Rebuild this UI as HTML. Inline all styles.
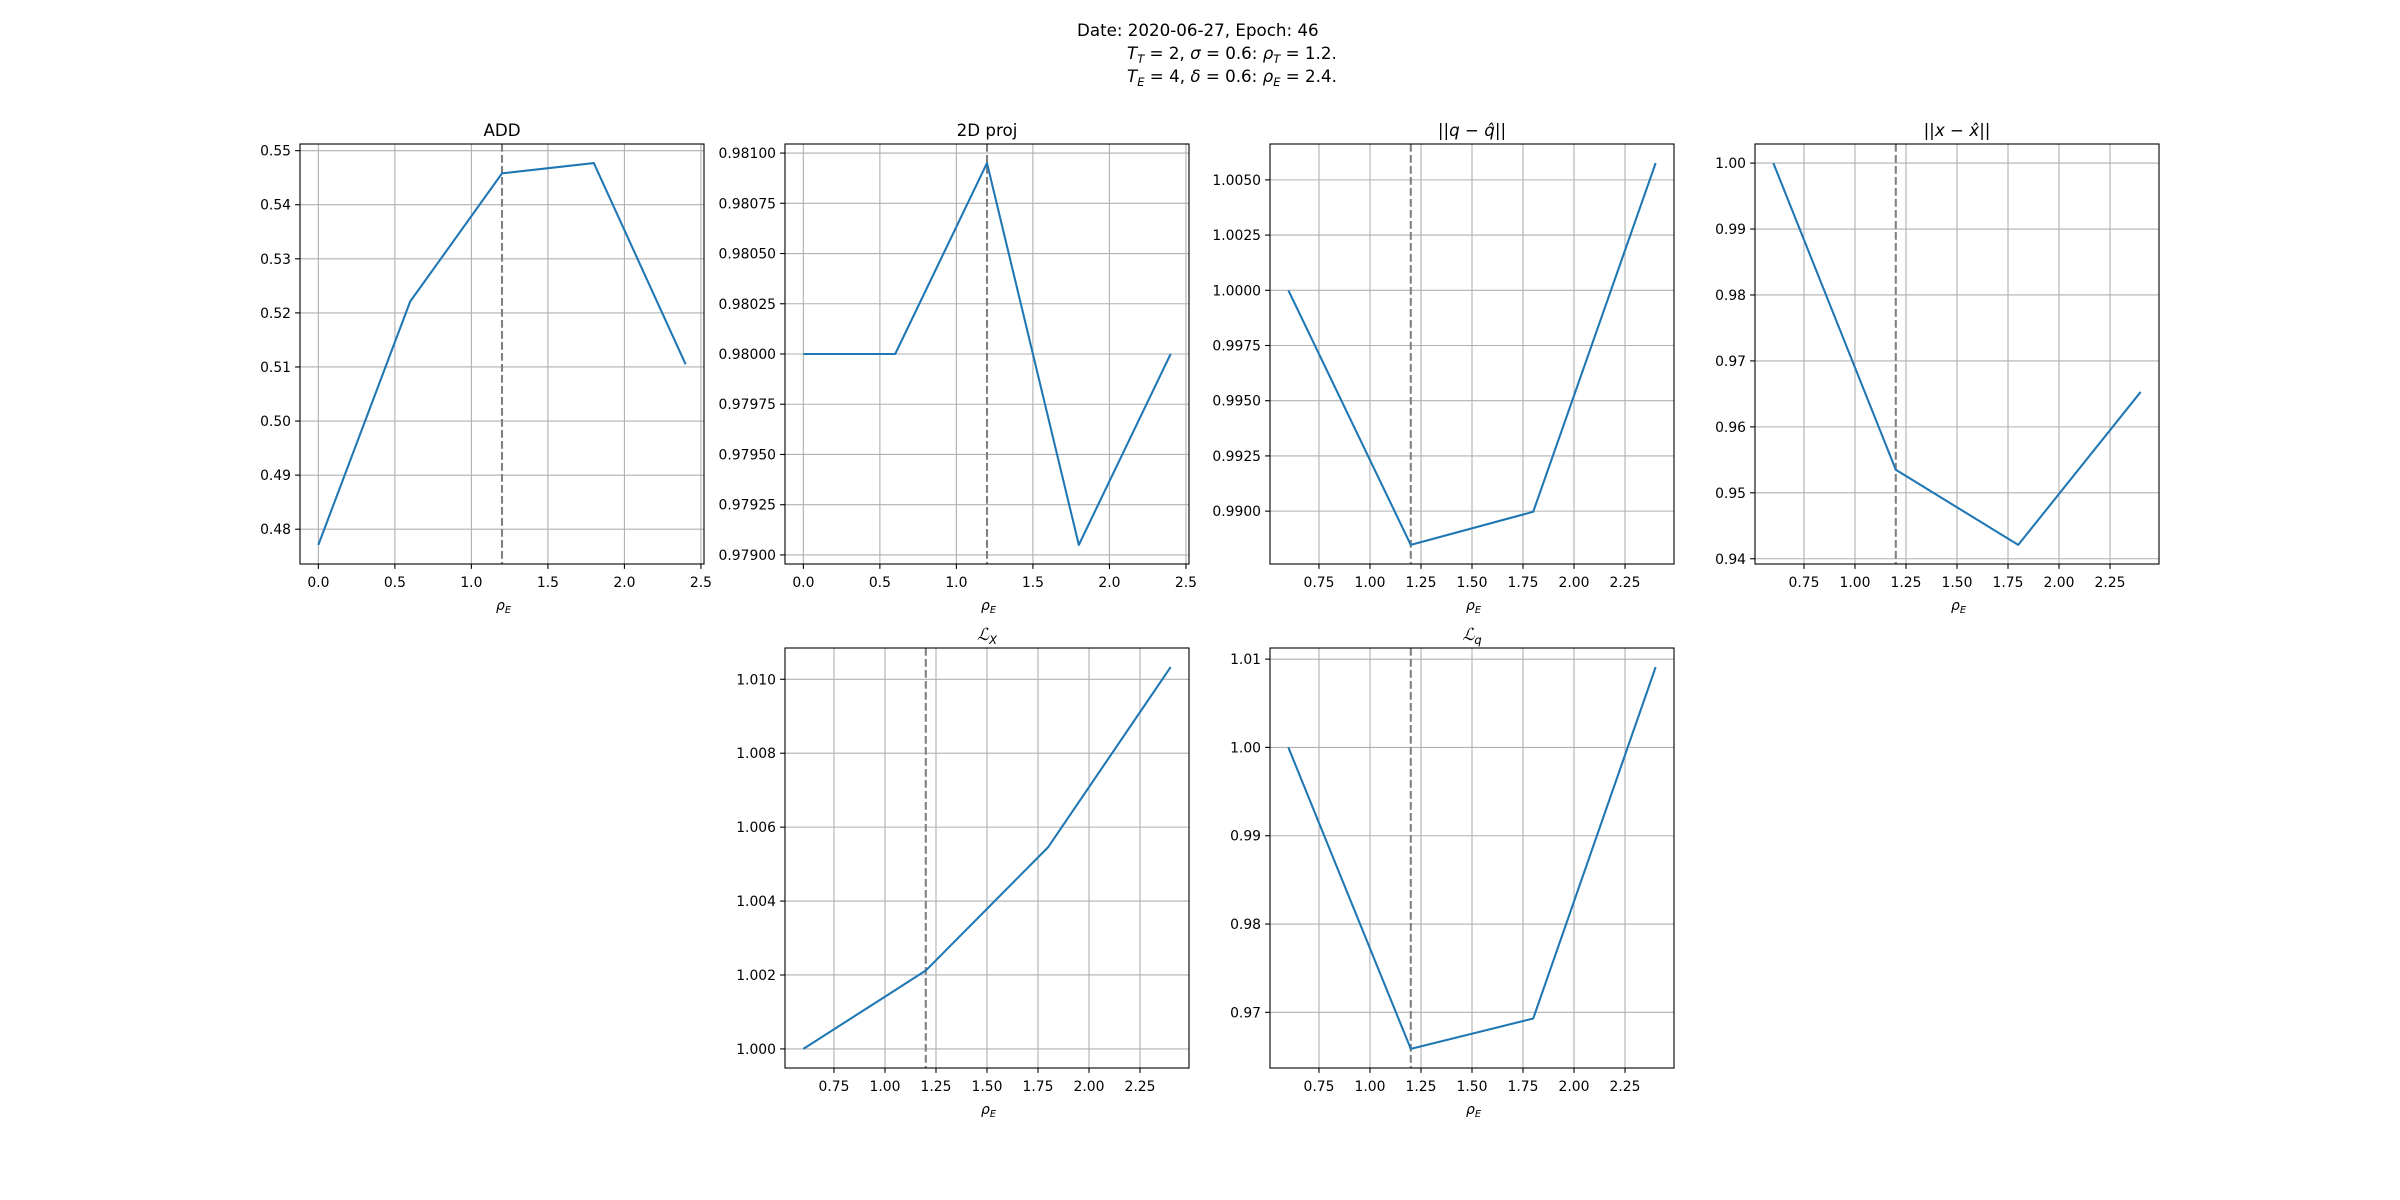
<!DOCTYPE html>
<html><head><meta charset="utf-8"><style>
html,body{margin:0;padding:0;background:#fff;}
svg{display:block;font-family:"DejaVu Sans","Liberation Sans",sans-serif;}
</style></head><body>
<svg id="fig" width="2400" height="1200" viewBox="0 0 2400 1200" xmlns="http://www.w3.org/2000/svg">
<rect width="2400" height="1200" fill="#fff"/>
<g font-size="16.7" fill="#000">
<text x="1077" y="36">Date: 2020-06-27, Epoch: 46</text>
<text x="1127" y="59"><tspan font-style="italic">T</tspan><tspan font-style="italic" font-size="11.5" dy="4">T</tspan><tspan dy="-4"> = 2, </tspan><tspan font-style="italic">σ</tspan> = 0.6: <tspan font-style="italic">ρ</tspan><tspan font-style="italic" font-size="11.5" dy="4">T</tspan><tspan dy="-4"> = 1.2.</tspan></text>
<text x="1127" y="82"><tspan font-style="italic">T</tspan><tspan font-style="italic" font-size="11.5" dy="4">E</tspan><tspan dy="-4"> = 4, </tspan><tspan font-style="italic">δ</tspan> = 0.6: <tspan font-style="italic">ρ</tspan><tspan font-style="italic" font-size="11.5" dy="4">E</tspan><tspan dy="-4"> = 2.4.</tspan></text>
</g>
</svg>
<script>
// ---- data ----
const xADD = [0, 0.6, 1.2, 1.8, 2.4];
const yADD = [0.4771, 0.5221, 0.5458, 0.5477, 0.5105];
const x2D = [0, 0.6, 1.2, 1.8, 2.4];
const y2D = [0.98, 0.98, 0.98095, 0.97905, 0.98];
const xQ = [0.6, 1.2, 1.8, 2.4];
const yQ = [1.0, 0.98847, 0.98997, 1.00576];
const xX = [0.6, 1.2, 1.8, 2.4];
const yX = [1.0, 0.9535, 0.9421, 0.9653];
const xLX = [0.6, 1.2, 1.8, 2.4];
const yLX = [1.0, 1.00212, 1.00546, 1.01033];
const xLq = [0.6, 1.2, 1.8, 2.4];
const yLq = [1.0, 0.96586, 0.9693, 1.0091];
const xTicksA = ['0.0','0.5','1.0','1.5','2.0','2.5'];
const xTicksB = ['0.75','1.00','1.25','1.50','1.75','2.00','2.25'];
const yTicksADD = ['0.48','0.49','0.50','0.51','0.52','0.53','0.54','0.55'];
const yTicks2D = ['0.97900','0.97925','0.97950','0.97975','0.98000','0.98025','0.98050','0.98075','0.98100'];
const yTicksQ = ['0.9900','0.9925','0.9950','0.9975','1.0000','1.0025','1.0050'];
const yTicksX = ['0.94','0.95','0.96','0.97','0.98','0.99','1.00'];
const yTicksLX = ['1.000','1.002','1.004','1.006','1.008','1.010'];
const yTicksLq = ['0.97','0.98','0.99','1.00','1.01'];
const vline = 1.2;

const NS = 'http://www.w3.org/2000/svg';
const svg = document.getElementById('fig');
function el(tag, attrs, parent){const e=document.createElementNS(NS,tag);for(const k in attrs)e.setAttribute(k,attrs[k]);(parent||svg).appendChild(e);return e;}

const W=404,H=420;
const panels=[
 {name:'add',title:'ADD',x:300,y:144,xs:xADD,ys:yADD,xt:xTicksA,yt:yTicksADD},
 {name:'proj-2d',title:'2D proj',x:785,y:144,xs:x2D,ys:y2D,xt:xTicksA,yt:yTicks2D},
 {name:'q-error',title:'q',x:1270,y:144,xs:xQ,ys:yQ,xt:xTicksB,yt:yTicksQ},
 {name:'x-error',title:'x',x:1755,y:144,xs:xX,ys:yX,xt:xTicksB,yt:yTicksX},
 {name:'loss-x',title:'LX',x:785,y:648,xs:xLX,ys:yLX,xt:xTicksB,yt:yTicksLX},
 {name:'loss-q',title:'Lq',x:1270,y:648,xs:xLq,ys:yLq,xt:xTicksB,yt:yTicksLq},
];

panels.forEach(p=>{
  const g=el('g',{});
  
  
  const xmin=Math.min(...p.xs),xmax=Math.max(...p.xs),ymin=Math.min(...p.ys),ymax=Math.max(...p.ys);
  const xl0=xmin-0.05*(xmax-xmin),xl1=xmax+0.05*(xmax-xmin);
  const yl0=ymin-0.05*(ymax-ymin),yl1=ymax+0.05*(ymax-ymin);
  const sx=v=>p.x+(v-xl0)/(xl1-xl0)*W;
  const sy=v=>p.y+H-(v-yl0)/(yl1-yl0)*H;
  // grid + ticks
  p.xt.forEach(t=>{
    const X=sx(parseFloat(t));
    const gl=el('line',{x1:X,x2:X,y1:p.y,y2:p.y+H,stroke:'#b0b0b0','stroke-width':1.1},g);
    
    
    el('line',{x1:X,x2:X,y1:p.y+H,y2:p.y+H+4.9,stroke:'#000','stroke-width':1.1},g);
    const tx=el('text',{x:X,y:p.y+H+23,'font-size':13.9,'text-anchor':'middle'},g);
    tx.textContent=t;
    
    
  });
  p.yt.forEach(t=>{
    const Y=sy(parseFloat(t));
    const gl=el('line',{x1:p.x,x2:p.x+W,y1:Y,y2:Y,stroke:'#b0b0b0','stroke-width':1.1},g);
    
    
    el('line',{x1:p.x-4.9,x2:p.x,y1:Y,y2:Y,stroke:'#000','stroke-width':1.1},g);
    const tx=el('text',{x:p.x-9,y:Y+5,'font-size':13.9,'text-anchor':'end'},g);
    tx.textContent=t;
    
    
  });
  // vline
  const vl=el('line',{x1:sx(vline),x2:sx(vline),y1:p.y,y2:p.y+H,stroke:'#808080','stroke-width':2.08,'stroke-dasharray':'7.7 3.3'},g);
  
  
  // series
  const pts=p.xs.map((v,i)=>sx(v).toFixed(2)+','+sy(p.ys[i]).toFixed(2)).join(' ');
  const pl=el('polyline',{points:pts,fill:'none',stroke:'#1f77b4','stroke-width':2.08,'stroke-linejoin':'round'},g);
  
  
  // frame
  const fr=el('rect',{x:p.x,y:p.y,width:W,height:H,fill:'none',stroke:'#000','stroke-width':1.1},g);
  
  
  // title
  const tt=el('text',{x:p.x+W/2,y:p.y-8,'font-size':16.7,'text-anchor':'middle'},g);
  if(p.title==='q'){tt.innerHTML='||<tspan font-style="italic">q</tspan> − <tspan font-style="italic">q̂</tspan>||';}
  else if(p.title==='x'){tt.innerHTML='||<tspan font-style="italic">x</tspan> − <tspan font-style="italic">x̂</tspan>||';}
  else if(p.title==='LX'){tt.innerHTML='<tspan font-family="Liberation Serif, serif" font-style="italic">ℒ</tspan><tspan font-style="italic" font-size="11.5" dy="4">X</tspan>';}
  else if(p.title==='Lq'){tt.innerHTML='<tspan font-family="Liberation Serif, serif" font-style="italic">ℒ</tspan><tspan font-style="italic" font-size="11.5" dy="4">q</tspan>';}
  else tt.textContent=p.title;
  
  
  // xlabel
  const xl=el('text',{x:p.x+W/2-6,y:p.y+H+46,'font-size':13.9},g);
  xl.innerHTML='<tspan font-style="italic">ρ</tspan><tspan font-style="italic" font-size="9.7" dy="3">E</tspan>';
  
  
});
</script>
</body></html>
